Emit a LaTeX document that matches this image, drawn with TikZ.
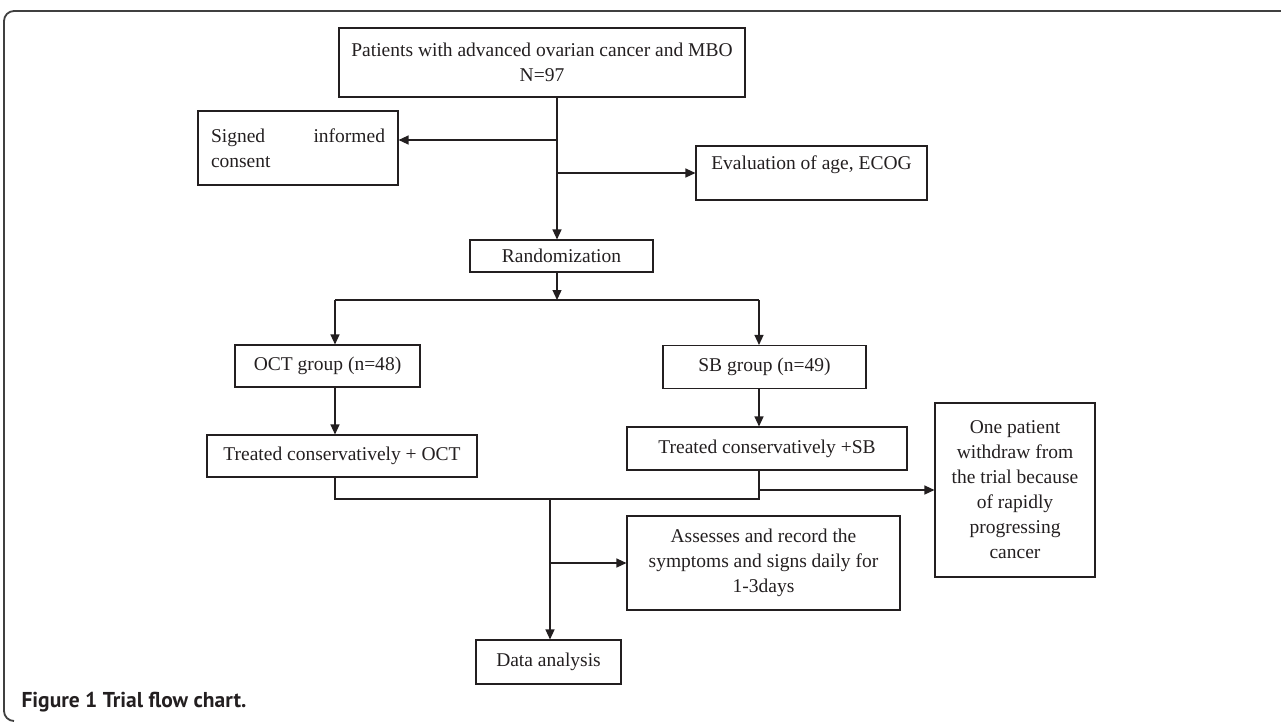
\documentclass[tikz,border=0pt]{standalone}
\usepackage{fontspec}
\setmainfont{Liberation Serif}
\newfontfamily\capfont{PT Sans}
\usetikzlibrary{arrows.meta}

\definecolor{ink}{HTML}{231F20}
\tikzset{
    box/.style={draw=ink, line width=1.1pt, inner sep=0pt, align=center, text=ink,
        font=\fontsize{19.5}{25}\selectfont},
    flow/.style={draw=ink, line width=1.3pt, -{Triangle[length=10pt,width=9pt]}},
    link/.style={draw=ink, line width=1.3pt},
}

\begin{document}
\begin{tikzpicture}[x=1pt,y=-1pt]
    \useasboundingbox (0,0) rectangle (1281,724);
    % outer frame
    \draw[line width=1.8pt, black!75, rounded corners=10pt]
    (1290,11) to (4,11) to (4,721) to (14,721)
    ;
    \node[box, minimum width=406pt, minimum height=69pt] (patients) at (542,62.5)
        {Patients with advanced ovarian cancer and MBO\\N=97};
    \node[box, minimum width=200pt, minimum height=74pt, text width=174pt, align=left] (consent) at (298,148)
        {Signed \hfill informed\\consent};
    \node[box, minimum width=231pt, minimum height=54pt, text depth=21pt] (evaluation) at (811.5,173)
        {Evaluation of age, ECOG};
    \node[box, minimum width=183pt, minimum height=32pt] (random) at (561.5,256) {Randomization};
    \node[box, minimum width=185pt, minimum height=42pt] (octgroup) at (327.5,366) {OCT group (n=48)};
    \node[box, minimum width=203pt, minimum height=43pt] (sbgroup) at (764.5,367) {SB group (n=49)};
    \node[box, minimum width=270pt, minimum height=42pt] (octtreat) at (342,456) {Treated conservatively + OCT};
    \node[box, minimum width=280pt, minimum height=43pt] (sbtreat) at (767,448.5) {Treated conservatively +SB};
    \node[box, minimum width=160pt, minimum height=174pt] (withdraw) at (1015,490)
        {One patient\\withdraw from\\the trial because\\of rapidly\\progressing\\cancer};
    \node[box, minimum width=273pt, minimum height=94pt] (assess) at (763.5,563)
        {Assesses and record the\\symptoms and signs daily for\\1-3days};
    \node[box, minimum width=145pt, minimum height=44pt] (analysis) at (548.5,662) {Data analysis};
    \node[anchor=base west, text=ink, font=\capfont\bfseries\fontsize{21.5}{24}\selectfont] (caption) at (18,707)
        {Figure 1 Trial flow chart.};

    \coordinate (trunk) at (557,0);
    \coordinate (split) at (557,140);
    \coordinate (branch) at (557,300);
    \coordinate (left) at (335,300);
    \coordinate (right) at (759,300);
    \coordinate (merge) at (550,499);

    \draw[flow] (trunk |- patients.south) to (trunk |- random.north);
    \draw[flow] (split) to (split -| consent.east);
    \draw[flow] (trunk |- evaluation.west) to (evaluation.west);
    \draw[flow] (trunk |- random.south) to (branch);
    \draw[link] (left) to (right);
    \draw[flow] (left) to (left |- octgroup.north);
    \draw[flow] (right) to (right |- sbgroup.north);
    \draw[flow] (left |- octgroup.south) to (left |- octtreat.north);
    \draw[flow] (right |- sbgroup.south) to (right |- sbtreat.north);
    \draw[link]
    (left |- octtreat.south) to (left |- merge) to (right |- merge) to (right |- sbtreat.south)
    ;
    \draw[flow] (right |- withdraw.west) to (withdraw.west);
    \draw[flow] (merge) to (merge |- analysis.north);
    \draw[flow] (merge |- assess.west) to (assess.west);
\end{tikzpicture}
\end{document}
